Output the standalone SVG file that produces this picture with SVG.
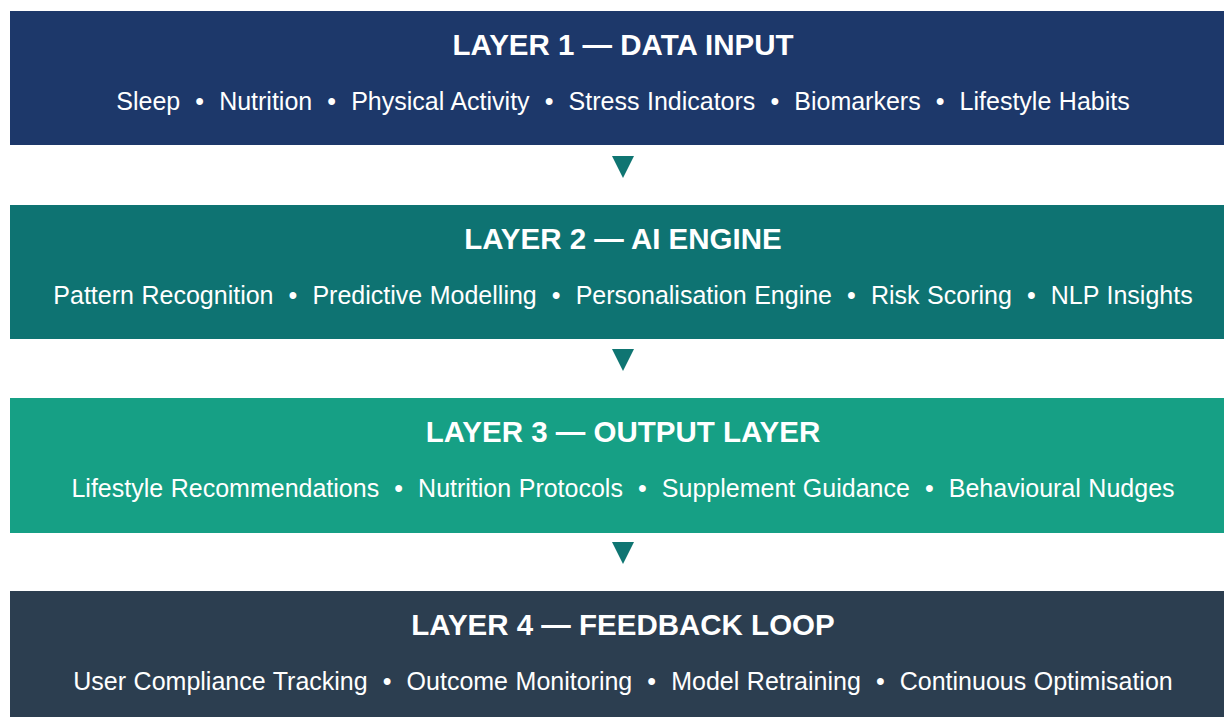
<svg xmlns="http://www.w3.org/2000/svg" width="1224" height="717" viewBox="0 0 1224 717">
<style>
.title{font-family:"Liberation Sans",Arial,sans-serif;font-weight:bold;font-size:29.5px;fill:#ffffff;text-anchor:middle}
.items{font-family:"Liberation Sans",Arial,sans-serif;font-size:25px;fill:#ffffff;text-anchor:middle;word-spacing:0.6px}
.arrow{fill:#0f7572}
</style>
<rect width="1224" height="717" fill="#ffffff"/>
<g id="layer1">
<rect x="10" y="11" width="1226" height="134" fill="#1d386a"/>
<text class="title" x="623" y="54.5">LAYER 1 — DATA INPUT</text>
<text class="items" x="623" y="109.5">Sleep&#160;&#160;•&#160;&#160;Nutrition&#160;&#160;•&#160;&#160;Physical Activity&#160;&#160;•&#160;&#160;Stress Indicators&#160;&#160;•&#160;&#160;Biomarkers&#160;&#160;•&#160;&#160;Lifestyle Habits</text>
</g>
<g id="layer2">
<rect x="10" y="205" width="1226" height="134" fill="#0e7372"/>
<text class="title" x="623" y="248.5">LAYER 2 — AI ENGINE</text>
<text class="items" x="623" y="303.5">Pattern Recognition&#160;&#160;•&#160;&#160;Predictive Modelling&#160;&#160;•&#160;&#160;Personalisation Engine&#160;&#160;•&#160;&#160;Risk Scoring&#160;&#160;•&#160;&#160;NLP Insights</text>
</g>
<g id="layer3">
<rect x="10" y="398" width="1226" height="135" fill="#16a085"/>
<text class="title" x="623" y="441.5">LAYER 3 — OUTPUT LAYER</text>
<text class="items" x="623" y="496.5">Lifestyle Recommendations&#160;&#160;•&#160;&#160;Nutrition Protocols&#160;&#160;•&#160;&#160;Supplement Guidance&#160;&#160;•&#160;&#160;Behavioural Nudges</text>
</g>
<g id="layer4">
<rect x="10" y="591" width="1226" height="140" fill="#2c3e50"/>
<text class="title" x="623" y="634.5">LAYER 4 — FEEDBACK LOOP</text>
<text class="items" x="623" y="690">User Compliance Tracking&#160;&#160;•&#160;&#160;Outcome Monitoring&#160;&#160;•&#160;&#160;Model Retraining&#160;&#160;•&#160;&#160;Continuous Optimisation</text>
</g>
<g id="connectors">
<polygon class="arrow" points="612,156 634,156 623,178"/>
<polygon class="arrow" points="612,349 634,349 623,371"/>
<polygon class="arrow" points="612,542 634,542 623,564"/>
</g>
</svg>
